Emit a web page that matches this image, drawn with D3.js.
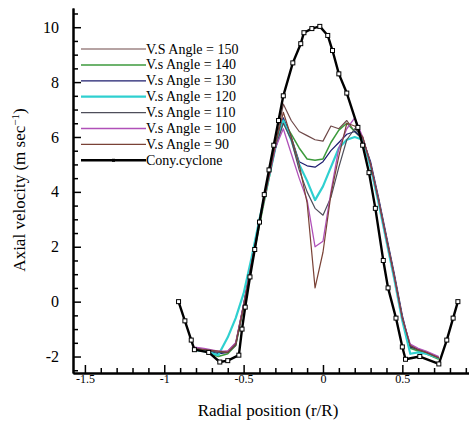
<!DOCTYPE html>
<html>
<head>
<meta charset="utf-8">
<script src="https://cdn.jsdelivr.net/npm/d3@7"></script>
</head>
<body style="margin:0">
<svg></svg>
<script>
// baseline cyclone (black, with markers)
var conyX = [-0.91, -0.87, -0.83, -0.81, -0.72, -0.65, -0.6, -0.53, -0.51, -0.49, -0.46, -0.43, -0.4, -0.37, -0.34, -0.31, -0.28, -0.25, -0.19, -0.14, -0.12, -0.07, -0.02, 0.03, 0.06, 0.1, 0.15, 0.22, 0.25, 0.29, 0.33, 0.38, 0.41, 0.46, 0.5, 0.52, 0.61, 0.73, 0.78, 0.82, 0.85];
var conyY = [0, -0.7, -1.4, -1.75, -1.85, -2.2, -2.15, -1.95, -1.0, -0.2, 0.9, 1.9, 2.9, 3.9, 4.8, 5.7, 6.6, 7.5, 8.7, 9.4, 9.8, 9.95, 10.03, 9.7, 9.15, 8.3, 7.6, 6.35, 5.7, 4.7, 3.4, 1.5, 0.5, -0.6, -1.65, -2.1, -2.0, -2.27, -1.4, -0.6, 0.0];

// radial positions shared by the vortex-finder angle cases
var angleX = [-0.82, -0.75, -0.66, -0.6, -0.55, -0.5, -0.45, -0.4, -0.35, -0.3, -0.25, -0.2, -0.15, -0.1, -0.05, 0, 0.05, 0.1, 0.15, 0.2, 0.25, 0.3, 0.35, 0.4, 0.45, 0.5, 0.55, 0.6, 0.65, 0.73];

var angle150 = [-1.7, -1.75, -1.85, -1.8, -1.5, -0.1, 1.4, 2.9, 4.3, 5.7, 7.2, 6.6, 6.2, 6.05, 5.9, 5.85, 6.4, 6.3, 6.6, 6.2, 5.9, 5.0, 3.7, 2.3, 0.9, -0.6, -1.6, -1.75, -1.85, -2.05];
var angle140 = [-1.75, -1.8, -2.0, -1.9, -1.6, -0.2, 1.3, 2.8, 4.2, 5.6, 6.6, 6.1, 5.6, 5.2, 5.15, 5.2, 5.8, 6.25, 6.5, 6.2, 5.95, 5.0, 3.7, 2.3, 0.9, -0.6, -1.7, -1.8, -1.9, -2.1];
var angle130 = [-1.7, -1.75, -1.9, -1.85, -1.55, -0.1, 1.5, 3.0, 4.4, 5.7, 6.7, 6.0, 5.1, 4.95, 4.9, 5.1, 5.5, 5.8, 6.1, 6.2, 5.95, 5.1, 3.8, 2.4, 1.0, -0.5, -1.65, -1.75, -1.85, -2.05];
var angle120 = [-1.75, -1.8, -1.95, -1.3, -0.6, 0.3, 1.6, 3.0, 4.3, 5.6, 6.6, 5.9, 5.0, 4.4, 3.7, 4.2, 4.9, 5.6, 5.9, 6.0, 5.9, 4.9, 3.6, 2.2, 0.8, -0.7, -1.9, -1.85, -1.9, -2.05];
var angle110 = [-1.7, -1.75, -1.85, -1.85, -1.6, -0.2, 1.4, 2.9, 4.3, 5.6, 6.5, 5.9, 4.8, 4.0, 3.4, 3.15, 3.8, 4.9, 5.9, 6.3, 6.0, 5.0, 3.7, 2.3, 0.9, -0.6, -1.6, -1.75, -1.85, -2.05];
var angle100 = [-1.65, -1.7, -1.8, -1.8, -1.5, -0.1, 1.4, 2.9, 4.3, 5.6, 6.3, 5.4, 4.5, 3.7, 2.0, 2.2, 4.0, 5.6, 6.3, 6.7, 6.0, 5.0, 3.7, 2.3, 0.9, -0.6, -1.55, -1.7, -1.8, -2.0];
var angle90 = [-1.7, -1.75, -1.8, -1.85, -1.55, -0.15, 1.4, 2.9, 4.3, 5.7, 6.9, 6.0, 5.0, 3.6, 0.5, 1.8, 3.9, 5.3, 6.5, 6.4, 6.0, 5.0, 3.7, 2.3, 0.9, -0.6, -1.6, -1.75, -1.85, -2.05];

var seriesNames = ["V.S Angle = 150", "V.s Angle = 140", "V.s Angle = 130", "V.s Angle = 120", "V.s Angle = 110", "V.s Angle = 100", "V.s Angle = 90"];
var seriesValues = [angle150, angle140, angle130, angle120, angle110, angle100, angle90];
var seriesColors = ["#6e4848", "#3c9a3c", "#1c1c6e", "#2fd0d0", "#4e4e5a", "#b050b8", "#7a4236"];
var seriesWidths = [1.2, 1.5, 1.2, 2.2, 1.2, 1.3, 1.2];

var yMajor = [-2, 0, 2, 4, 6, 8, 10];
var xMajor = [-1.5, -1, -0.5, 0, 0.5];

var WIDTH = 469, HEIGHT = 423;
var svg = d3.select("svg")
    .attr("width", WIDTH)
    .attr("height", HEIGHT);

var x = d3.scaleLinear().domain([-1.575, 0.92]).range([73, 469]);
var y = d3.scaleLinear().domain([-2.6, 10.7]).range([373, 8]);

var line = d3.line()
    .x(function (d) { return x(d[0]); })
    .y(function (d) { return y(d[1]); });

// angle series
seriesValues.forEach(function (vals, i) {
    svg.append("path")
        .datum(angleX.map(function (v, j) { return [v, vals[j]]; }))
        .attr("fill", "none")
        .attr("stroke", seriesColors[i])
        .attr("stroke-width", seriesWidths[i])
        .attr("stroke-linejoin", "round")
        .attr("d", line);
});

// conventional cyclone on top
var cony = conyX.map(function (v, j) { return [v, conyY[j]]; });
svg.append("path")
    .datum(cony)
    .attr("fill", "none")
    .attr("stroke", "#000")
    .attr("stroke-width", 2.4)
    .attr("stroke-linejoin", "round")
    .attr("d", line);

svg.selectAll("rect.mk")
    .data(cony)
    .enter().append("rect")
    .attr("class", "mk")
    .attr("x", function (d) { return x(d[0]) - 2; })
    .attr("y", function (d) { return y(d[1]) - 2; })
    .attr("width", 4)
    .attr("height", 4)
    .attr("fill", "#fff")
    .attr("stroke", "#000")
    .attr("stroke-width", 1);

// axes
var yMinor = d3.range(-2.5, 10.51, 0.5).filter(function (v) { return yMajor.indexOf(v) < 0; });
var xMinor = d3.range(-1.5, 0.91, 0.1).map(function (v) { return Math.round(v * 10) / 10; })
    .filter(function (v) { return xMajor.indexOf(v) < 0; });

var yAxis = svg.append("g")
    .attr("transform", "translate(73,0)")
    .call(d3.axisLeft(y).tickValues(yMajor).tickSizeInner(-8).tickSizeOuter(0).tickPadding(14));
svg.append("g")
    .attr("transform", "translate(73,0)")
    .call(d3.axisLeft(y).tickValues(yMinor).tickSizeInner(-5).tickSizeOuter(0).tickFormat(""));

var xAxis = svg.append("g")
    .attr("transform", "translate(0,373)")
    .call(d3.axisBottom(x).tickValues(xMajor).tickSizeInner(-8).tickSizeOuter(0).tickPadding(1));
svg.append("g")
    .attr("transform", "translate(0,373)")
    .call(d3.axisBottom(x).tickValues(xMinor).tickSizeInner(-5).tickSizeOuter(0).tickFormat(""));

svg.selectAll(".domain").attr("stroke", "#000").attr("stroke-width", 2);
svg.selectAll(".tick line").attr("stroke", "#000").attr("stroke-width", 1.5);

// plain hyphen minus like the original
yAxis.selectAll("text")
    .attr("font-size", 16)
    .attr("fill", "#000")
    .text(function (d) { return String(d); });
xAxis.selectAll("text")
    .attr("font-size", 12)
    .attr("fill", "#000")
    .text(function (d) { return String(d); });

// axis titles
var yTitle = svg.append("text")
    .attr("transform", "translate(25,190) rotate(-90)")
    .attr("text-anchor", "middle")
    .attr("font-size", 17)
    .attr("fill", "#000");
yTitle.append("tspan").text("Axial velocity (m sec");
yTitle.append("tspan").attr("dy", -6).attr("font-size", 11).text("\u22121");
yTitle.append("tspan").attr("dy", 6).text(")");

svg.append("text")
    .attr("x", 268)
    .attr("y", 416)
    .attr("text-anchor", "middle")
    .attr("font-size", 17)
    .attr("fill", "#000")
    .text("Radial position (r/R)");

// legend
var legendNames = seriesNames.concat(["Cony.cyclone"]);
var legendColors = seriesColors.concat(["#000"]);
var legendWidths = seriesWidths.concat([2.4]);
var legend = svg.append("g");
legendNames.forEach(function (name, i) {
    var ly = 49 + i * 15.9;
    legend.append("line")
        .attr("x1", 81).attr("x2", 146)
        .attr("y1", ly).attr("y2", ly)
        .attr("stroke", legendColors[i])
        .attr("stroke-width", legendWidths[i]);
    legend.append("text")
        .attr("x", 146)
        .attr("y", ly + 4.5)
        .attr("font-size", 14)
        .attr("fill", "#000")
        .text(name);
});
legend.append("rect")
    .attr("x", 112).attr("y", 49 + 7 * 15.9 - 1.5)
    .attr("width", 3).attr("height", 3)
    .attr("fill", "#000");

svg.selectAll("g").attr("font-family", null);
svg.selectAll("text, tspan").style("font-family", "'Liberation Serif'");
</script>
</body>
</html>
